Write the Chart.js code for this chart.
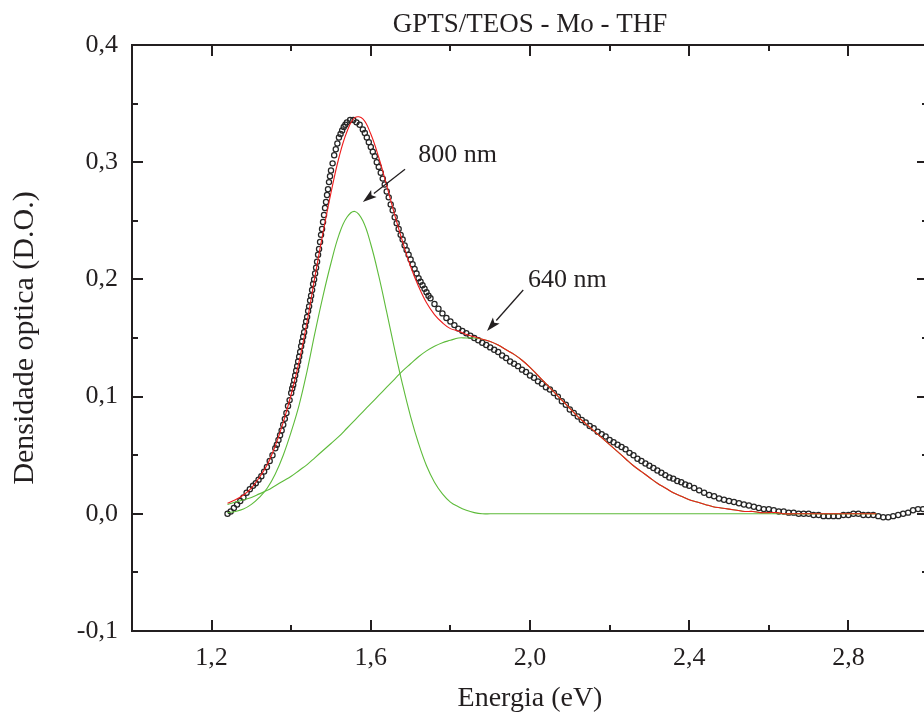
<!DOCTYPE html>
<html>
<head>
<meta charset="utf-8">
<script src="https://cdn.jsdelivr.net/npm/chart.js@4/dist/chart.umd.min.js"></script>
<style>
html,body{margin:0;padding:0;background:#fff;overflow:hidden;width:924px;height:717px;}
#wrap{width:940px;height:717px;}
</style>
</head>
<body>
<div id="wrap"><canvas id="c" width="940" height="717"></canvas></div>
<script>
// ---- measured data (open circles) ----
const energy = [
1.240,1.248,1.256,1.264,1.272,1.280,1.288,1.296,
1.304,1.311,1.318,1.325,1.332,1.339,1.346,1.353,1.360,
1.364,1.368,1.372,1.376,1.380,1.384,1.388,1.392,1.396,1.400,
1.4025,1.405,1.4075,1.410,1.4125,1.415,1.4175,1.420,1.4225,1.425,1.4275,1.430,1.4325,1.435,1.4375,1.440,1.4425,1.445,1.4475,1.450,
1.4525,1.455,1.4575,1.460,1.4625,1.465,1.4675,1.470,1.4725,1.475,1.4775,1.480,1.4825,1.485,1.4875,1.490,1.4925,1.495,1.4975,1.500,
1.504,1.508,1.512,1.516,1.520,1.524,1.528,1.532,1.536,1.540,
1.548,1.556,1.564,1.572,1.580,
1.585,1.590,1.595,1.600,1.605,1.610,1.615,1.620,1.625,1.630,1.635,1.640,1.645,1.650,1.655,1.660,1.665,1.670,1.675,1.680,
1.685,1.690,1.695,1.700,1.705,1.710,1.715,1.720,1.725,1.730,1.735,1.740,1.745,1.750,
1.760,1.770,1.780,1.790,1.800,1.810,1.820,1.830,1.840,1.850,1.860,1.870,1.880,1.890,1.900,
1.91,1.92,1.93,1.94,1.95,1.96,1.97,1.98,1.99,2.00,2.01,2.02,2.03,2.04,2.05,2.06,2.07,2.08,2.09,2.10,
2.11,2.12,2.13,2.14,2.15,2.16,2.17,2.18,2.19,2.20,2.21,2.22,2.23,2.24,2.25,2.26,2.27,2.28,2.29,2.30,
2.31,2.32,2.33,2.34,2.35,2.36,2.37,2.38,2.39,2.40,
2.4125,2.425,2.4375,2.45,2.4625,2.475,2.4875,2.50,2.5125,2.525,2.5375,2.55,2.5625,2.575,2.5875,2.60,
2.6125,2.625,2.6375,2.65,2.6625,2.675,2.6875,2.70,2.7125,2.725,2.7375,2.75,2.7625,2.775,2.7875,2.80,
2.8125,2.825,2.8375,2.85,2.8625,2.875,2.8875,2.90,2.9125,2.925,2.9375,2.95,2.9625,2.975,2.9875,3.00
];
const absorbance = [
0.000,0.002,0.005,0.008,0.011,0.014,0.018,0.021,
0.024,0.026,0.029,0.032,0.036,0.040,0.045,0.050,0.056,
0.059,0.063,0.067,0.071,0.076,0.081,0.086,0.092,0.097,0.103,
0.107,0.110,0.114,0.118,0.122,0.126,0.130,0.134,0.138,0.143,0.147,0.151,0.155,0.160,0.164,0.168,0.173,0.177,0.182,0.186,
0.191,0.196,0.200,0.205,0.210,0.215,0.221,0.226,0.232,0.238,0.243,0.249,0.255,0.261,0.266,0.272,0.277,0.283,0.288,0.293,
0.299,0.306,0.311,0.316,0.321,0.324,0.327,0.330,0.332,0.334,
0.336,0.336,0.334,0.332,0.328,
0.325,0.321,0.317,0.313,0.309,0.305,0.300,0.296,0.291,0.286,0.281,0.275,0.270,0.264,0.259,0.253,0.248,0.243,0.238,0.234,
0.229,0.225,0.221,0.217,0.213,0.209,0.205,0.201,0.198,0.195,0.192,0.189,0.186,0.184,
0.179,0.175,0.171,0.167,0.164,0.161,0.158,0.156,0.154,0.152,0.150,0.148,0.146,0.144,0.142,
0.140,0.138,0.135,0.133,0.130,0.128,0.126,0.123,0.121,0.118,0.116,0.113,0.111,0.108,0.106,0.103,0.100,0.096,0.093,0.089,
0.086,0.083,0.080,0.078,0.075,0.073,0.070,0.068,0.066,0.063,0.061,0.059,0.057,0.055,0.052,0.050,0.047,0.045,0.043,0.041,
0.039,0.037,0.035,0.033,0.031,0.030,0.028,0.027,0.025,0.024,
0.022,0.020,0.018,0.016,0.015,0.013,0.012,0.011,0.010,0.009,0.008,0.007,0.006,0.005,0.004,0.004,
0.003,0.002,0.002,0.001,0.001,0.000,0.000,0.000,-0.001,-0.001,-0.002,-0.002,-0.002,-0.002,-0.001,-0.001,
0.000,0.000,-0.001,-0.001,-0.001,-0.002,-0.003,-0.003,-0.002,-0.001,0.000,0.001,0.003,0.004,0.004,0.005
];

// ---- fitted curves ----
const fitEnergy = [
1.24,1.26,1.28,1.30,1.32,1.34,1.36,1.38,1.40,1.42,1.44,1.46,1.48,1.50,1.52,1.54,1.56,1.58,1.60,1.62,
1.64,1.66,1.68,1.70,1.72,1.74,1.76,1.78,1.80,1.82,1.84,1.86,1.88,1.90,1.92,1.94,1.96,1.98,2.00,2.02,
2.04,2.06,2.08,2.10,2.12,2.14,2.16,2.18,2.20,2.22,2.24,2.26,2.28,2.30,2.32,2.34,2.36,2.38,2.40,2.42,
2.44,2.46,2.48,2.50,2.52,2.54,2.56,2.58,2.60,2.62,2.64,2.66,2.68,2.70,2.72,2.74,2.76,2.78,2.80,2.82,
2.84,2.86,2.87
];
const fitTotal = [
0.009,0.012,0.016,0.022,0.031,0.042,0.058,0.078,0.102,0.130,0.164,0.203,0.240,0.274,0.304,0.326,0.338,0.337,0.324,0.304,
0.280,0.255,0.232,0.211,0.194,0.180,0.170,0.163,0.158,0.156,0.153,0.151,0.149,0.147,0.144,0.140,0.136,0.131,0.125,0.118,
0.111,0.104,0.097,0.090,0.083,0.077,0.071,0.065,0.059,0.053,0.047,0.041,0.036,0.031,0.026,0.022,0.018,0.015,0.012,0.010,
0.008,0.006,0.005,0.004,0.003,0.002,0.002,0.001,0.001,0.001,0.000,0.000,0.000,0.000,0.000,0.000,0.000,0.000,0.000,0.000,
0.000,0.000,0.000
];
const peak800 = [
0.001,0.002,0.004,0.008,0.014,0.022,0.034,0.050,0.070,0.093,0.122,0.155,0.186,0.214,0.238,0.253,0.258,0.250,0.230,0.203,
0.172,0.140,0.110,0.083,0.060,0.041,0.027,0.017,0.010,0.006,0.003,0.001,0.000,0.000,0.000,0.000,0.000,0.000,0.000,0.000,
0.000,0.000,0.000,0.000,0.000,0.000,0.000,0.000,0.000,0.000,0.000,0.000,0.000,0.000,0.000,0.000,0.000,0.000,0.000,0.000,
0.000,0.000,0.000,0.000,0.000,0.000,0.000,0.000,0.000,0.000,0.000,0.000,0.000,0.000,0.000,0.000,0.000,0.000,0.000,0.000,
0.000,0.000,0.000
];
const peak640 = [
0.008,0.010,0.012,0.014,0.017,0.020,0.024,0.028,0.032,0.037,0.042,0.048,0.054,0.060,0.066,0.073,0.080,0.087,0.094,0.101,
0.108,0.115,0.122,0.128,0.134,0.139,0.143,0.146,0.148,0.150,0.150,0.150,0.149,0.147,0.144,0.140,0.136,0.131,0.125,0.118,
0.111,0.104,0.097,0.090,0.083,0.077,0.071,0.065,0.059,0.053,0.047,0.041,0.036,0.031,0.026,0.022,0.018,0.015,0.012,0.010,
0.008,0.006,0.005,0.004,0.003,0.002,0.002,0.001,0.001,0.001,0.000,0.000,0.000,0.000,0.000,0.000,0.000,0.000,0.000,0.000,
0.000,0.000,0.000
];

// ---- axes / ticks ----
const xLabelTicks = [1.2,1.6,2.0,2.4,2.8];
const xMinorTicks = [1.4,1.8,2.2,2.6];
const yLabelTicks = [-0.1,0.0,0.1,0.2,0.3,0.4];
const yMinorTicks = [-0.05,0.05,0.15,0.25,0.35];

// ---- annotations ----
const annotLabels = ['800 nm','640 nm'];
const annotTextPos = [[1.719,0.306],[1.995,0.199]];
const annotArrowFrom = [[1.686,0.294],[1.983,0.191]];
const annotArrowTo = [[1.580,0.266],[1.892,0.156]];

const FONT = "'Liberation Serif','Times New Roman',serif";
const TXT = '#231f20';
const fmt = v => (Math.abs(v) < 1e-9 ? 0 : v).toFixed(1).replace('.', ',');

const pts = (xs, ys) => xs.map((x, i) => ({x, y: ys[i]}));

const framePlugin = {
  id: 'frame',
  afterDraw(chart) {
    const {ctx, chartArea: a, scales: {x, y}} = chart;
    ctx.save();
    ctx.strokeStyle = '#231f20';
    ctx.lineWidth = 2;
    ctx.strokeRect(a.left, a.top, a.right - a.left, a.bottom - a.top);
    const seg = (x1, y1, x2, y2) => { ctx.beginPath(); ctx.moveTo(x1, y1); ctx.lineTo(x2, y2); ctx.stroke(); };
    xLabelTicks.forEach(v => { const p = Math.round(x.getPixelForValue(v)); seg(p, a.bottom, p, a.bottom - 11); seg(p, a.top, p, a.top + 11); });
    xMinorTicks.forEach(v => { const p = Math.round(x.getPixelForValue(v)); seg(p, a.bottom, p, a.bottom - 6); seg(p, a.top, p, a.top + 6); });
    yLabelTicks.forEach(v => { const p = Math.round(y.getPixelForValue(v)); seg(a.left, p, a.left + 11, p); seg(a.right, p, a.right - 11, p); });
    yMinorTicks.forEach(v => { const p = Math.round(y.getPixelForValue(v)); seg(a.left, p, a.left + 6, p); seg(a.right, p, a.right - 6, p); });

    // annotations
    ctx.fillStyle = TXT;
    ctx.strokeStyle = TXT;
    ctx.font = '26px ' + FONT;
    ctx.textBaseline = 'middle';
    ctx.textAlign = 'left';
    annotLabels.forEach((t, i) => {
      ctx.fillText(t, x.getPixelForValue(annotTextPos[i][0]), y.getPixelForValue(annotTextPos[i][1]));
      const x1 = x.getPixelForValue(annotArrowFrom[i][0]), y1 = y.getPixelForValue(annotArrowFrom[i][1]);
      const x2 = x.getPixelForValue(annotArrowTo[i][0]), y2 = y.getPixelForValue(annotArrowTo[i][1]);
      const ang = Math.atan2(y2 - y1, x2 - x1);
      const hl = 14, hw = 4.5;
      const bx = x2 - hl * Math.cos(ang), by = y2 - hl * Math.sin(ang);
      ctx.lineWidth = 1.3;
      seg(x1, y1, bx, by);
      ctx.beginPath();
      ctx.moveTo(x2, y2);
      ctx.lineTo(bx + hw * Math.sin(ang), by - hw * Math.cos(ang));
      ctx.lineTo(bx + 3 * Math.cos(ang), by + 3 * Math.sin(ang));
      ctx.lineTo(bx - hw * Math.sin(ang), by + hw * Math.cos(ang));
      ctx.closePath();
      ctx.fill();
    });
    ctx.restore();
  }
};

new Chart(document.getElementById('c'), {
  type: 'scatter',
  data: {
    datasets: [
      {label: 'Ajuste', data: pts(fitEnergy, fitTotal), showLine: true, borderColor: '#ee1c1c', borderWidth: 1.1,
       pointRadius: 0, tension: 0.4, order: 0},
      {label: '800 nm', data: pts(fitEnergy, peak800), showLine: true, borderColor: '#5dbb3a', borderWidth: 1.1,
       pointRadius: 0, tension: 0.4, order: 1},
      {label: '640 nm', data: pts(fitEnergy, peak640), showLine: true, borderColor: '#5dbb3a', borderWidth: 1.1,
       pointRadius: 0, tension: 0.4, order: 1},
      {label: 'Dados', data: pts(energy, absorbance), showLine: false, pointRadius: 2.6, pointHoverRadius: 2.6,
       pointBorderWidth: 1.25, pointBorderColor: '#262626', pointBackgroundColor: 'rgba(255,255,255,0)', order: 2}
    ]
  },
  options: {
    responsive: false,
    animation: false,
    devicePixelRatio: 1,
    layout: {padding: {left: 0, top: 0, right: 12, bottom: 0}},
    plugins: {
      legend: {display: false},
      tooltip: {enabled: false},
      title: {display: true, text: 'GPTS/TEOS - Mo - THF', fullSize: false, color: TXT,
              font: {family: FONT, size: 27, weight: 'normal', lineHeight: 1.2},
              padding: {top: 9, bottom: 3.6}}
    },
    scales: {
      x: {
        type: 'linear', min: 1.0, max: 3.0,
        afterBuildTicks: s => { s.ticks = xLabelTicks.map(v => ({value: v})); },
        afterFit: s => { s.height = 86; },
        grid: {display: false, drawTicks: false},
        border: {display: false},
        ticks: {padding: 12, color: TXT, font: {family: FONT, size: 26}, callback: v => fmt(v), maxRotation: 0, autoSkip: false},
        title: {display: true, text: 'Energia (eV)', color: TXT, font: {family: FONT, size: 28}, padding: {top: 0, bottom: 2}}
      },
      y: {
        type: 'linear', min: -0.1, max: 0.4,
        afterBuildTicks: s => { s.ticks = yLabelTicks.map(v => ({value: v})); },
        afterFit: s => { s.width = 132; },
        grid: {display: false, drawTicks: false},
        border: {display: false},
        ticks: {padding: 14, color: TXT, font: {family: FONT, size: 26}, callback: v => fmt(v), autoSkip: false},
        title: {display: true, text: 'Densidade optica (D.O.)', color: TXT, font: {family: FONT, size: 30}, padding: {top: 7, bottom: 0}}
      }
    }
  },
  plugins: [framePlugin]
});
</script>
</body>
</html>
